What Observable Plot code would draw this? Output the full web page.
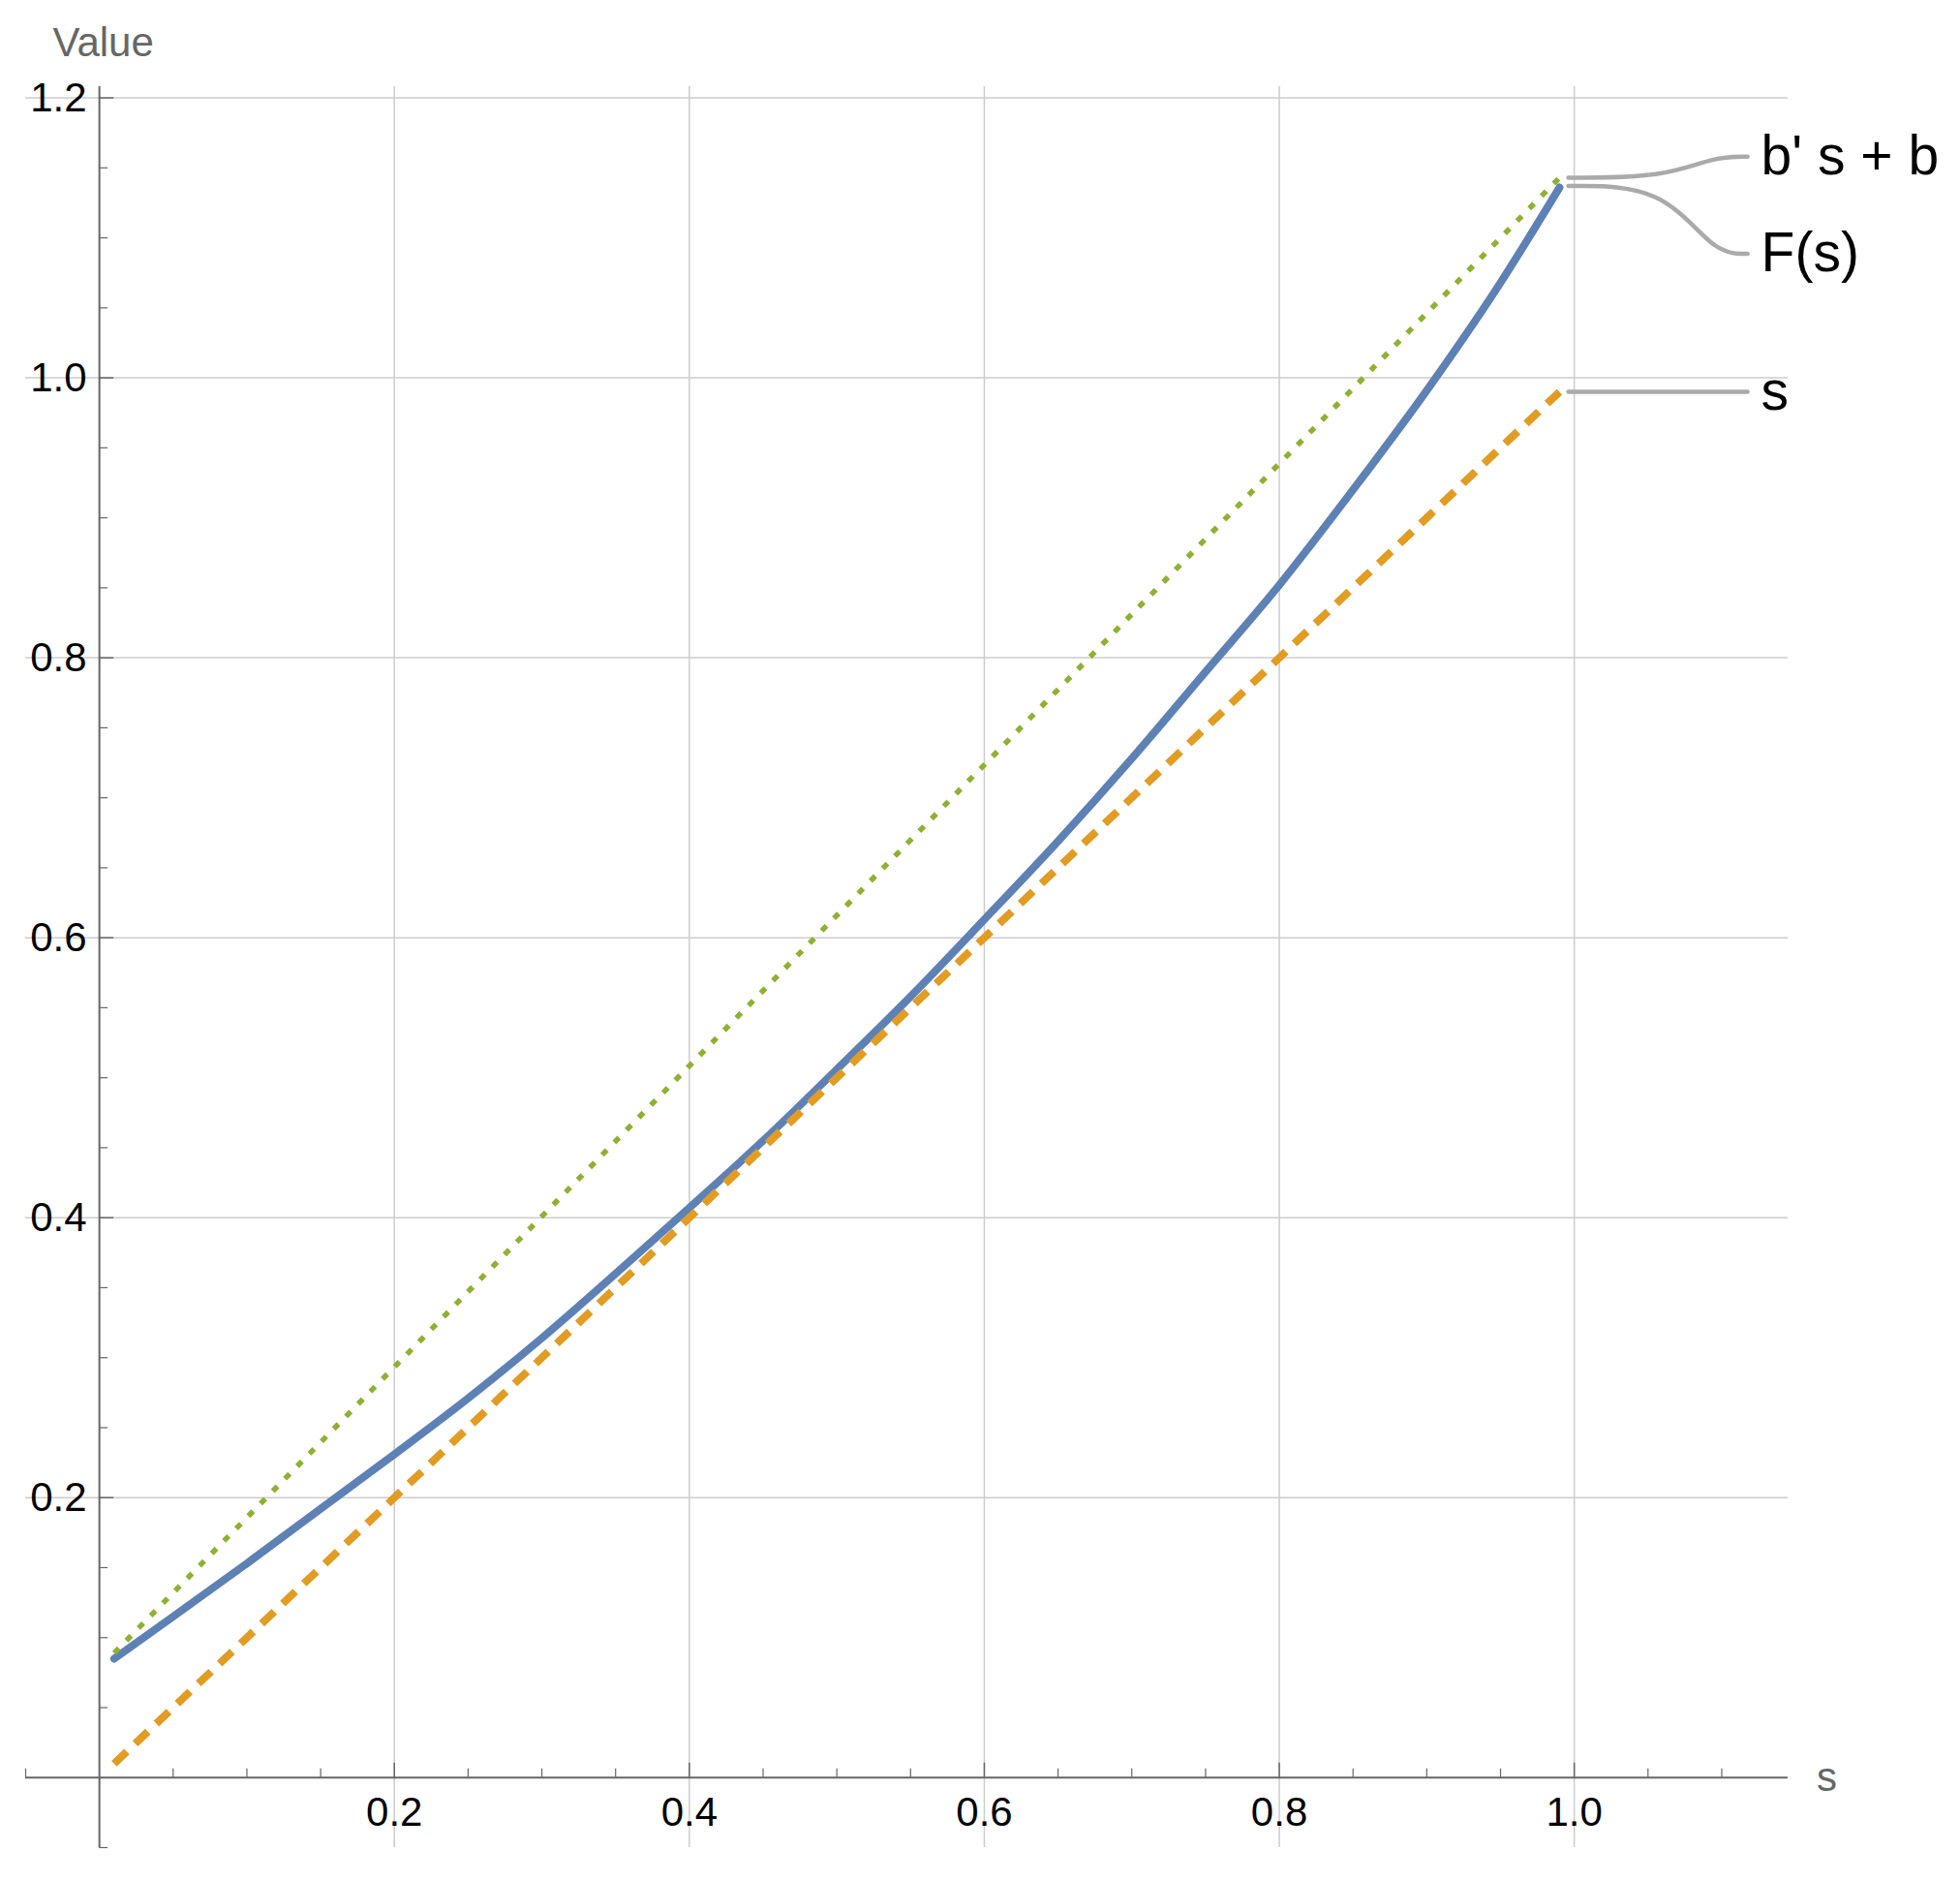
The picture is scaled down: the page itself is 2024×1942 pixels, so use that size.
<!DOCTYPE html>
<html>
<head>
<meta charset="utf-8">
<script src="https://cdn.jsdelivr.net/npm/d3@7"></script>
<script src="https://cdn.jsdelivr.net/npm/@observablehq/plot@0.6"></script>
<style>
html, body { margin: 0; padding: 0; background: #fff; overflow: hidden; }
</style>
</head>
<body>
<div id="chart"></div>
<script>
// ---- data ----
const sValues = [0.01, 0.05, 0.1, 0.15, 0.2, 0.25, 0.3, 0.35, 0.4, 0.45, 0.5, 0.55, 0.6, 0.65, 0.7, 0.75, 0.8, 0.85, 0.9, 0.95, 0.99];
const fValues = [0.085, 0.115, 0.153, 0.192, 0.231, 0.271, 0.314, 0.360, 0.407, 0.455, 0.506, 0.558, 0.613, 0.669, 0.728, 0.790, 0.852, 0.920, 0.991, 1.068, 1.136];
const identS = [0.01, 0.99];
const identValues = [0.01, 0.99];
const linearS = [0.01, 0.99];
const linearValues = [0.089, 1.143];

const xMajorTicks = [0.2, 0.4, 0.6, 0.8, 1.0];
const yMajorTicks = [0.2, 0.4, 0.6, 0.8, 1.0, 1.2];
const xMinorTicks = [-0.05, 0.05, 0.1, 0.15, 0.25, 0.3, 0.35, 0.45, 0.5, 0.55, 0.65, 0.7, 0.75, 0.85, 0.9, 0.95, 1.05, 1.1];
const yMinorTicks = [-0.05, 0.05, 0.1, 0.15, 0.25, 0.3, 0.35, 0.45, 0.5, 0.55, 0.65, 0.7, 0.75, 0.85, 0.9, 0.95, 1.05, 1.1, 1.15];

const seriesLabels = ["b' s + b", "F(s)", "s"];
const seriesEndValues = [1.143, 1.137, 0.99];
const labelValues = [1.158, 1.0886, 0.99];

const xLabel = "s";
const yLabel = "Value";

// ---- layout ----
const W = 2024, H = 1942;
const mT = 89, mB = 35, mL = 26, mR = 178;
const xDom = [-0.05, 1.145], yDom = [-0.05, 1.208];
const kx = (W - mL - mR) / (xDom[1] - xDom[0]);
const ky = (H - mT - mB) / (yDom[1] - yDom[0]);

const blue = "#5E81B5", orange = "#E19C24", green = "#8FB032";
const gridColor = "#cccccc", axisColor = "#666666", connColor = "#aaaaaa";
const font = "'Liberation Sans', Arial, Helvetica, sans-serif";

const fData = sValues.map((s, i) => ({s, v: fValues[i]}));
const identData = identS.map((s, i) => ({s, v: identValues[i]}));
const linearData = linearS.map((s, i) => ({s, v: linearValues[i]}));

const cStart = 0.996, cK1 = 1.06, cK2 = 1.095, cEnd = 1.1175;
const connectors = seriesLabels.flatMap((k, i) => [
  {k, x: cStart, y: seriesEndValues[i]},
  {k, x: cK1, y: seriesEndValues[i]},
  {k, x: cK2, y: labelValues[i]},
  {k, x: cEnd, y: labelValues[i]}
]);
const labelData = seriesLabels.map((t, i) => ({t, v: labelValues[i]}));

const plot = Plot.plot({
  width: W, height: H,
  marginTop: mT, marginBottom: mB, marginLeft: mL, marginRight: mR,
  x: {domain: xDom, axis: null},
  y: {domain: yDom, axis: null},
  style: {fontFamily: font, background: "#fff", overflow: "visible"},
  marks: [
    // grid
    Plot.ruleX(xMajorTicks, {x: d => d, stroke: gridColor, strokeWidth: 1.5}),
    Plot.ruleY(yMajorTicks, {y: d => d, stroke: gridColor, strokeWidth: 1.5}),
    // axes
    Plot.ruleY([0], {y: d => d, x1: xDom[0], x2: xDom[1], stroke: axisColor, strokeWidth: 2}),
    Plot.ruleX([0], {x: d => d, y1: yDom[0], y2: yDom[1], stroke: axisColor, strokeWidth: 2}),
    // ticks
    Plot.ruleX(xMajorTicks, {x: d => d, y1: 0, y2: 15 / ky, stroke: axisColor, strokeWidth: 1.5}),
    Plot.ruleX(xMinorTicks, {x: d => d, y1: 0, y2: 9 / ky, stroke: axisColor, strokeWidth: 1.2}),
    Plot.ruleY(yMajorTicks, {y: d => d, x1: 0, x2: 15 / kx, stroke: axisColor, strokeWidth: 1.5}),
    Plot.ruleY(yMinorTicks, {y: d => d, x1: 0, x2: 9 / kx, stroke: axisColor, strokeWidth: 1.2}),
    // tick labels
    Plot.text(xMajorTicks, {x: d => d, y: 0, text: d => d.toFixed(1), dy: 36, fontSize: 42, fill: "#000"}),
    Plot.text(yMajorTicks, {x: 0, y: d => d, text: d => d.toFixed(1), textAnchor: "end", dx: -13, fontSize: 42, fill: "#000"}),
    // axis labels
    Plot.text([yLabel], {frameAnchor: "top-left", text: d => d, dx: 28, dy: -45, lineAnchor: "middle", textAnchor: "start", fontSize: 42, fill: "#666"}),
    Plot.text([xLabel], {x: xDom[1], y: 0, text: d => d, dx: 40, fontSize: 42, fill: "#666"}),
    // connectors
    Plot.line(connectors, {x: "x", y: "y", z: "k", curve: "basis", stroke: connColor, strokeWidth: 4.5}),
    // series
    Plot.line(fData, {x: "s", y: "v", curve: "monotone-x", stroke: blue, strokeWidth: 8}),
    Plot.line(identData, {x: "s", y: "v", stroke: orange, strokeWidth: 8, strokeDasharray: "18,12", strokeLinecap: "butt"}),
    Plot.line(linearData, {x: "s", y: "v", stroke: green, strokeWidth: 5.5, strokeDasharray: "7,11", strokeLinecap: "butt"}),
    // series labels
    Plot.text(labelData, {x: cEnd, y: "v", text: "t", dx: 14, textAnchor: "start", fontSize: 57, fill: "#000"})
  ]
});
document.getElementById("chart").appendChild(plot);
</script>
</body>
</html>
